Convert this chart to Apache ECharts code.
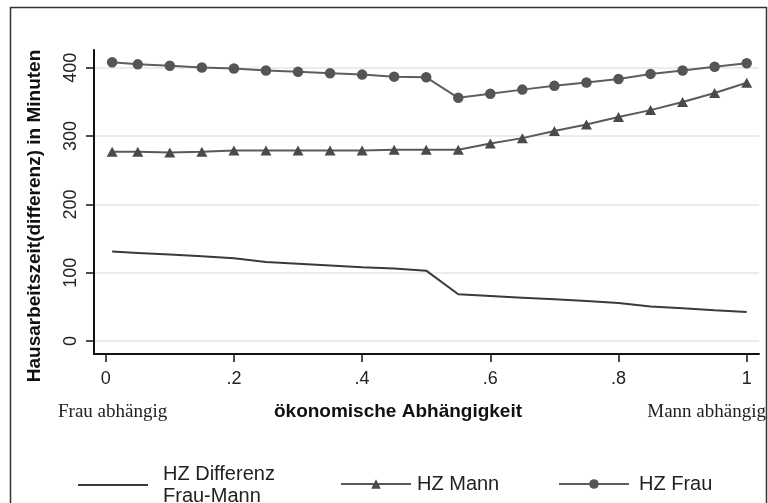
<!DOCTYPE html>
<html><head><meta charset="utf-8">
<script src="https://cdn.jsdelivr.net/npm/echarts@6/dist/echarts.min.js"></script>
<style>html,body{margin:0;padding:0;background:#fff}#c{width:768px;height:503px}</style>
</head><body><div id="c"></div>
<script>
const xValues = [0.01,0.05,0.1,0.15,0.2,0.25,0.3,0.35,0.4,0.45,0.5,0.55,0.6,0.65,0.7,0.75,0.8,0.85,0.9,0.95,1.0];
const hzDiff  = [131,129,126.5,124,121,115.5,113,110.5,108,106,103,68.5,66,63.5,61,58.5,55.5,50.5,48,45,42.5];
const hzMann  = [277,277,276,277,279,279,279,279,279,280,280,280,289,297,307.5,317,328,338,350,363,378];
const hzFrau  = [408,405,403,400.5,399,396,394,392,390,387,386,356,362,368,373.5,378.5,383.5,391,396,401.5,406.5];
const yTicks = [0,100,200,300,400];
const xTicks = [0,0.2,0.4,0.6,0.8,1];
const seriesNames = ['HZ Differenz\nFrau-Mann','HZ Mann','HZ Frau'];
const yTitle = 'Hausarbeitszeit(differenz) in Minuten';
const xTitle = 'ökonomische Abhängigkeit';
const leftNote = 'Frau abhängig';
const rightNote = 'Mann abhängig';

const pair = arr => xValues.map((x,i)=>[x,arr[i]]);
const SANS = '"Liberation Sans", Arial, sans-serif';
const SERIF = '"Liberation Serif", "Times New Roman", serif';

const chart = echarts.init(document.getElementById('c'), null, {renderer:'canvas'});
const legendItem = (name, left, top, gap, extra) => ({
  orient:'horizontal', padding:0, itemWidth:70, itemHeight:12, left, top,
  data:[Object.assign({name}, extra || {})],
  textStyle:{fontFamily:SANS, fontSize:20, color:'#222', lineHeight:22, padding:[0,0,0,gap]}
});
chart.setOption({
  animation:false,
  backgroundColor:'#fff',
  grid:{left:94, right:9, top:50, bottom:149, containLabel:false},
  xAxis:{type:'value', min:-0.0183, max:1.0192,
    axisLine:{show:true, onZero:false, lineStyle:{color:'#111', width:2}},
    axisTick:{show:true, length:8, customValues:xTicks, lineStyle:{color:'#111', width:1.5}},
    axisLabel:{customValues:xTicks, margin:16, fontFamily:SANS, fontSize:18, color:'#222',
      formatter:v=>{ if (Math.abs(v)<1e-9) return '0'; if (Math.abs(v-1)<1e-9) return '1'; return String(+v.toFixed(1)).replace(/^0/,''); }},
    splitLine:{show:false}},
  yAxis:{type:'value', min:-19, max:426,
    axisLine:{show:true, onZero:false, lineStyle:{color:'#111', width:2}},
    axisTick:{show:true, length:8, customValues:yTicks, lineStyle:{color:'#111', width:1.5}},
    axisLabel:{customValues:yTicks, rotate:90, margin:14, fontFamily:SANS, fontSize:18, color:'#222'},
    splitLine:{show:false}},
  legend:[
    legendItem(seriesNames[0], 77, 463, 10, {itemStyle:{color:'rgba(0,0,0,0)', borderWidth:0, opacity:0}}),
    legendItem(seriesNames[1], 340, 473, 1),
    legendItem(seriesNames[2], 558, 473, 5)
  ],
  series:[
    {name:seriesNames[0], type:'line', data:pair(hzDiff), symbol:'none', z:3,
      lineStyle:{color:'#3a3a3a', width:2}, itemStyle:{color:'#3a3a3a'},
      markLine:{silent:true, z:0, symbol:'none', label:{show:false}, animation:false,
        lineStyle:{color:'#e6e6e6', width:1.5, type:'solid'},
        emphasis:{disabled:true},
        data:yTicks.map(v=>({yAxis:v}))}},
    {name:seriesNames[1], type:'line', data:pair(hzMann), symbol:'triangle', symbolSize:[11,10], z:4,
      lineStyle:{color:'#5a5a5a', width:2}, itemStyle:{color:'#4a4a4a', borderWidth:0}},
    {name:seriesNames[2], type:'line', data:pair(hzFrau), symbol:'circle', symbolSize:10.5, z:4,
      lineStyle:{color:'#5e5e5e', width:2}, itemStyle:{color:'#555', borderWidth:0}}
  ],
  graphic:[
    {type:'rect', silent:true, shape:{x:10.5, y:7.5, width:756, height:520},
      style:{fill:'none', stroke:'#333', lineWidth:1.5}},
    {type:'text', x:35, y:216, rotation:Math.PI/2, silent:true,
      style:{text:yTitle, fontFamily:SANS, fontWeight:'bold', fontSize:19, fill:'#111', align:'center', verticalAlign:'middle'}},
    {type:'text', x:398, y:412, silent:true,
      style:{text:xTitle, fontFamily:SANS, fontWeight:'bold', fontSize:19, fill:'#111', align:'center', verticalAlign:'middle'}},
    {type:'text', x:58, y:412, silent:true,
      style:{text:leftNote, fontFamily:SERIF, fontSize:19, fill:'#222', align:'left', verticalAlign:'middle'}},
    {type:'text', x:766, y:412, silent:true,
      style:{text:rightNote, fontFamily:SERIF, fontSize:19, fill:'#222', align:'right', verticalAlign:'middle'}}
  ]
});
</script></body></html>
